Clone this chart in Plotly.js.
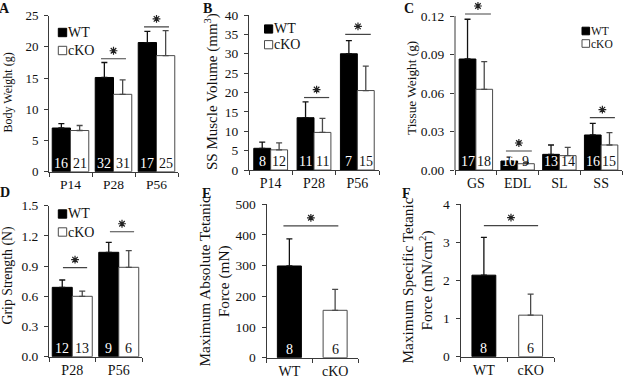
<!DOCTYPE html>
<html><head><meta charset="utf-8">
<script src="https://cdn.plot.ly/plotly-3.0.1.min.js"></script>
<style>html,body{margin:0;padding:0;background:#fff}</style>
</head><body><div id="chart" style="width:623px;height:377px"></div>
<script>
// ---------- DATA ----------
// Panel A: Body weight (g)
const catsA = ['P14', 'P28', 'P56'];
const wtA = [7.0, 15.1, 20.7];
const wtErrA = [0.7, 2.4, 1.8];
const koA = [6.6, 12.4, 18.6];
const koErrA = [0.8, 2.3, 4.0];
const nWtA = ['16', '32', '17'];
const nKoA = ['21', '31', '25'];
const sigA_x0 = [0.71, 1.71], sigA_x1 = [1.29, 2.29], sigA_y = [18.1, 23.2];

// Panel B: SS muscle volume (mm3)
const catsB = ['P14', 'P28', 'P56'];
const wtB = [5.6, 13.5, 30.0];
const wtErrB = [1.6, 4.1, 3.4];
const koB = [5.2, 9.7, 20.5];
const koErrB = [1.8, 3.6, 6.3];
const nWtB = ['8', '11', '7'];
const nKoB = ['12', '11', '15'];
const sigB_x0 = [0.77, 1.72], sigB_x1 = [1.35, 2.31], sigB_y = [18.7, 35.0];

// Panel C: Tissue weight (g)
const catsC = ['GS', 'EDL', 'SL', 'SS'];
const wtC = [0.0865, 0.0070, 0.0122, 0.0273];
const wtErrC = [0.0310, 0.0030, 0.0073, 0.0091];
const koC = [0.0629, 0.0049, 0.0112, 0.0195];
const koErrC = [0.0215, 0.0009, 0.0065, 0.0096];
const nWtC = ['17', '10', '13', '16'];
const nKoC = ['18', '9', '14', '15'];
const sigC_x0 = [-0.26, 0.72, 2.73], sigC_x1 = [0.36, 1.34, 3.33], sigC_y = [0.1216, 0.0148, 0.0408];

// Panel D: Grip strength (N)
const catsD = ['P28', 'P56'];
const wtD = [0.689, 1.037];
const wtErrD = [0.073, 0.099];
const koD = [0.600, 0.888];
const koErrD = [0.052, 0.165];
const nWtD = ['12', '9'];
const nKoD = ['13', '6'];
const sigD_x0 = [-0.20, 0.81], sigD_x1 = [0.32, 1.33], sigD_y = [0.884, 1.241];

// Panel E: Maximum absolute tetanic force (mN)
const catsE = ['WT', 'cKO'];
const valE = [299, 154.5];
const errE = [88, 68.5];
const nE = ['8', '6'];
const sigE_x0 = [-0.13], sigE_x1 = [1.07], sigE_y = [430];

// Panel F: Maximum specific tetanic force (mN/cm2)
const catsF = ['WT', 'cKO'];
const valF = [2.14, 1.09];
const errF = [0.99, 0.55];
const nF = ['8', '6'];
const sigF_x0 = [0.0], sigF_x1 = [1.16], sigF_y = [3.44];

// ---------- BUILD ----------
const FONT = '"Liberation Serif", "Times New Roman", serif';
const W = 623, H = 377;
const px = v => v / W, py = v => 1 - v / H;
const AX = '#3a3a3a';
const STAR_LIFT_PX = 8;

const data = [], annotations = [], shapes = [];
const layout = {
  width: W, height: H,
  margin: {l: 0, r: 0, t: 0, b: 0, pad: 0},
  paper_bgcolor: '#fff', plot_bgcolor: 'rgba(0,0,0,0)',
  barmode: 'overlay', showlegend: false,
  font: {family: FONT, color: '#111', size: 13},
  annotations, shapes
};

const WT_STYLE = {fill: '#000', line: '#000', err: '#111', text: '#fff'};
const KO_STYLE = {fill: '#fff', line: '#4a4a4a', err: '#4a4a4a', text: '#111'};

// lineTop: if given, the y-axis line is drawn only up to this value (axis range extends a bit higher
// so that marks above the top tick stay visible)
function setAxes(k, xDom, yDom, cats, yRange, dtick, fmt, fs, lineTop) {
  const xs = k === 1 ? '' : String(k);
  layout['xaxis' + xs] = {
    domain: [px(xDom[0]), px(xDom[1])], anchor: 'y' + xs,
    type: 'category', categoryorder: 'array', categoryarray: cats,
    range: [-0.5, cats.length - 0.5],
    showline: true, linecolor: AX, linewidth: 1,
    ticks: 'outside', tickson: 'boundaries', ticklen: 4, tickcolor: AX, tickwidth: 1,
    showgrid: false, zeroline: false, fixedrange: true,
    tickfont: {family: FONT, size: fs + 0.5, color: '#111'}
  };
  // hidden linear twin of the category axis, for positions between categories
  const ov = String(k + 6);
  layout['xaxis' + ov] = {
    overlaying: 'x' + xs, anchor: 'y' + xs, type: 'linear',
    range: [-0.5, cats.length - 0.5], visible: false, fixedrange: true
  };
  layout['yaxis' + xs] = {
    domain: [py(yDom[1]), py(yDom[0])], anchor: 'x' + xs,
    range: yRange, dtick: dtick, tick0: 0, tickformat: fmt,
    showline: lineTop === undefined, linecolor: AX, linewidth: 1,
    ticks: 'outside', ticklen: 4, tickcolor: AX, tickwidth: 1,
    showgrid: false, zeroline: false, fixedrange: true,
    ticklabelstandoff: 3,
    tickfont: {family: FONT, size: fs, color: '#111'}
  };
  if (lineTop !== undefined) {
    shapes.push({type: 'line', xref: 'paper', yref: 'y' + xs,
                 x0: px(xDom[0]), x1: px(xDom[0]), y0: yRange[0], y1: lineTop,
                 line: {color: AX, width: 1}});
  }
  return {x: 'x' + xs, y: 'y' + xs, xo: 'x' + ov,
          perPx: (yRange[1] - yRange[0]) / (yDom[1] - yDom[0])};
}

function addBar(ax, xcats, yvals, errs, offset, w, st) {
  data.push({
    type: 'bar', x: xcats, y: yvals, xaxis: ax.x, yaxis: ax.y,
    width: w, offset: offset,
    marker: {color: st.fill, line: {color: st.line, width: 1}},
    error_y: {type: 'data', symmetric: false, array: errs, arrayminus: errs.map(() => 0),
              color: st.err, thickness: 1.3, width: 3},
    hoverinfo: 'skip'
  });
}

function addN(ax, xs, texts, st, size) {
  texts.forEach((t, i) => annotations.push({
    xref: ax.x, yref: ax.y, x: xs[i], y: 0, yanchor: 'bottom', xanchor: 'center',
    yshift: -1, text: t, showarrow: false,
    font: {family: FONT, size: size, color: st.text}
  }));
}

function addSig(ax, x0s, x1s, ys) {
  ys.forEach((y, i) => {
    shapes.push({type: 'line', xref: ax.x, yref: ax.y, x0: x0s[i], x1: x1s[i], y0: y, y1: y,
                 line: {color: '#444', width: 1.2}});
  });
  // significance asterisks, centred over each line
  data.push({
    type: 'scatter', mode: 'markers', xaxis: ax.xo, yaxis: ax.y, cliponaxis: false,
    x: ys.map((y, i) => (x0s[i] + x1s[i]) / 2),
    y: ys.map(y => y + STAR_LIFT_PX * ax.perPx),
    marker: {symbol: 'asterisk-open', size: 6.5, color: '#222', line: {color: '#222', width: 1.2}},
    hoverinfo: 'skip'
  });
}

function grouped(k, xDom, yDom, cats, yRange, dtick, fmt, fs, w, wt, wtErr, ko, koErr, nWt, nKo, sx0, sx1, sy, lineTop) {
  const ax = setAxes(k, xDom, yDom, cats, yRange, dtick, fmt, fs, lineTop);
  addBar(ax, cats, wt, wtErr, -w, w, WT_STYLE);
  addBar(ax, cats, ko, koErr, 0, w, KO_STYLE);
  addN(ax, cats.map((c, i) => i - w / 2), nWt, WT_STYLE, 14);
  addN(ax, cats.map((c, i) => i + w / 2), nKo, KO_STYLE, 14);
  addSig(ax, sx0, sx1, sy);
  return ax;
}

function single(k, xDom, yDom, cats, yRange, dtick, fmt, fs, w, vals, errs, ns, sx0, sx1, sy) {
  const ax = setAxes(k, xDom, yDom, cats, yRange, dtick, fmt, fs);
  addBar(ax, [cats[0]], [vals[0]], [errs[0]], -w / 2, w, WT_STYLE);
  addBar(ax, [cats[1]], [vals[1]], [errs[1]], -w / 2, w, KO_STYLE);
  addN(ax, [0], [ns[0]], WT_STYLE, 14);
  addN(ax, [1], [ns[1]], KO_STYLE, 14);
  addSig(ax, sx0, sx1, sy);
  return ax;
}

grouped(1, [49, 178], [15.7, 171.7], catsA, [0, 25], 5, 'd', 13, 0.425,
        wtA, wtErrA, koA, koErrA, nWtA, nKoA, sigA_x0, sigA_x1, sigA_y);
grouped(2, [249, 379], [15, 170], catsB, [0, 40], 5, 'd', 13.5, 0.39,
        wtB, wtErrB, koB, koErrB, nWtB, nKoB, sigB_x0, sigB_x1, sigB_y);
grouped(3, [455, 622], [3.2, 170], catsC, [0, 0.13], 0.03, '.2f', 13.5, 0.40,
        wtC, wtErrC, koC, koErrC, nWtC, nKoC, sigC_x0, sigC_x1, sigC_y, 0.12);
grouped(4, [49, 142], [205.7, 356.7], catsD, [0, 1.5], 0.3, '.1f', 13.5, 0.43,
        wtD, wtErrD, koD, koErrD, nWtD, nKoD, sigD_x0, sigD_x1, sigD_y);
single(5, [266.5, 358], [204.3, 357.7], catsE, [0, 500], 100, 'd', 13.5, 0.525,
       valE, errE, nE, sigE_x0, sigE_x1, sigE_y);
single(6, [460.5, 554], [204.3, 356.7], catsF, [0, 4], 1, 'd', 13.5, 0.51,
       valF, errF, nF, sigF_x0, sigF_x1, sigF_y);

// Legends (A, B, C, D)
function legend(sqX, yWT, yKO, size, s) {
  [[yWT, WT_STYLE, 'WT'], [yKO, KO_STYLE, 'cKO']].forEach(([yc, st, label]) => {
    shapes.push({type: 'rect', xref: 'paper', yref: 'paper',
                 x0: px(sqX), x1: px(sqX + s), y0: py(yc + s / 2), y1: py(yc - s / 2),
                 fillcolor: st.fill, line: {color: st.line, width: 1}});
    annotations.push({xref: 'paper', yref: 'paper', x: px(sqX + s), y: py(yc),
                      xanchor: 'left', yanchor: 'middle', text: label, showarrow: false,
                      borderpad: 0,
                      font: {family: FONT, size: size, color: '#111'}});
  });
}
legend(58.3, 32.5, 50.5, 14, 8.4);
legend(264.5, 29, 44.7, 14, 8.2);
legend(582, 31, 43.5, 11.5, 7.6);
legend(58.3, 214, 232, 14, 8.4);

// Panel letters
[['A', 5, 8.5], ['B', 207, 8.5], ['C', 409, 8.5], ['D', 5, 192], ['E', 206, 193], ['F', 406, 193]]
  .forEach(([t, x, y]) => annotations.push({xref: 'paper', yref: 'paper', x: px(x), y: py(y),
    xanchor: 'center', yanchor: 'middle', text: '<b>' + t + '</b>', showarrow: false,
    font: {family: FONT, size: 14, color: '#111'}}));

// Y-axis titles
[['Body Weight (g)', 7.5, 93, 12],
 ['SS Muscle Volume (mm<sup>3</sup>)', 212, 92, 15],
 ['Tissue Weight (g)', 411, 88, 13.3],
 ['Grip Strength (N)', 7.5, 276, 13.8],
 ['Maximum Absolute Tetanic<br>Force (mN)', 214.5, 281, 15.3],
 ['Maximum Specific Tetanic<br>Force (mN/cm<sup>2</sup>)', 417.5, 281, 15.3]]
  .forEach(([t, x, y, fs]) => annotations.push({xref: 'paper', yref: 'paper', x: px(x), y: py(y),
    xanchor: 'center', yanchor: 'middle', textangle: -90, text: t, showarrow: false,
    font: {family: FONT, size: fs, color: '#111'}}));

Plotly.newPlot('chart', data, layout, {displayModeBar: false, staticPlot: true});
</script></body></html>
